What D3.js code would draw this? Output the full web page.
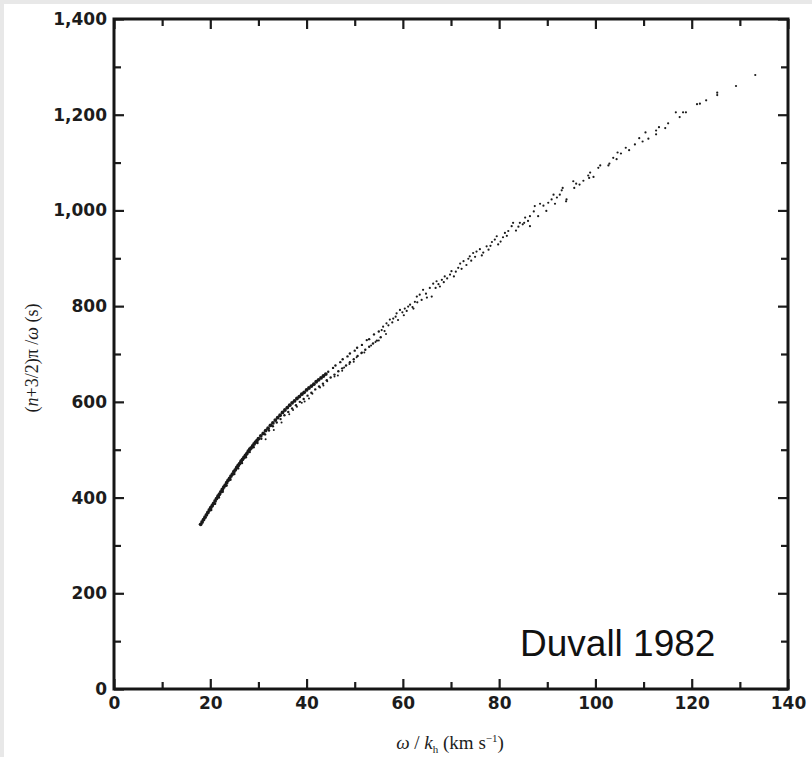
<!DOCTYPE html>
<html>
<head>
<meta charset="utf-8">
<script src="https://cdn.jsdelivr.net/npm/d3@7"></script>
<style>
  body { margin: 0; background: #e8e8e8; }
  svg { display: block; }
</style>
</head>
<body>
<div id="chart"></div>
<script>
var svgWidth = 812;
var svgHeight = 757;

// x = omega/k_h (km/s), y = (n+3/2)pi/omega (s)
// the tight band at low phase speed
var denseX = [18.0,18.3,18.6,18.9,19.2,19.5,19.8,20.1,20.4,20.7,21.0,21.3,21.6,21.9,22.2,22.5,22.8,23.1,23.4,23.7,
  24.0,24.3,24.6,24.9,25.2,25.5,25.8,26.1,26.4,26.7,27.0,27.3,27.6,27.9,28.2,28.5,28.8,29.1,29.4,29.7,30.0,
  30.5,31.0,31.5,32.0,32.5,33.0,33.5,34.0,34.5,35.0,35.5,36.0,36.5,37.0,37.5,38.0,38.5,39.0,39.5,
  40.0,40.5,41.0,41.5,42.0,42.5,43.0,43.5,44.0];
var denseY = [344,349,354,359,364,369,374,379,383,388,393,398,403,407,412,417,422,426,431,436,
  440,445,449,454,458,463,467,471,476,480,484,488,492,497,501,504,508,512,516,519,523,
  529,534,540,545,551,556,562,567,572,578,583,588,593,598,602,607,611,616,620,
  625,629,633,637,642,646,650,654,658];

// where the band breaks up into grains
var fadeX = [44.5,45.5,46.0,47.0,47.5,48.5,49.0,50.0,50.5,51.5,52.5,53.0,54.0,55.0];
var fadeY = [663,671,676,683,689,695,701,707,713,719,729,731,741,747];

// second row just under the band
var rowTwoX = [20.2,21.0,21.8,22.6,23.4,24.2,25.0,25.8,26.6,27.4,28.2,29.0,29.8,30.6,31.4,32.2,33.0,33.8,34.6,35.4,
  36.2,37.0,37.8,38.6,39.4,40.2,41.0,41.8,42.6,43.4,44.2,45.0,45.8,46.6,47.4,48.2,49.0,49.8,50.6,51.4,
  52.2,53.0,53.8,54.6,55.4];
var rowTwoY = [374,387,400,412,425,437,449,461,472,484,495,505,514,523,532,540,549,557,564,572,
  579,586,593,600,606,613,619,626,632,638,645,651,657,664,670,676,683,689,696,702,
  709,715,722,728,735];

// loose points below the band
var looseX = [31.5,33.2,34.8,36.4,38.0,39.6,41.2,42.8,44.3,45.8,47.4,48.9,50.4,52.0,53.4,55.0,56.5,
  47.8,43.5,39.0,51.5,54.3,37.2,40.5,46.5,49.8];
var looseY = [522,541,557,574,590,601,617,630,643,653,665,679,693,703,718,728,742,
  672,634,598,703,725,583,607,655,684];

// the sparse upper part
var sparseX = [55.6,55.9,56.6,57.3,58.0,58.7,59.4,60.2,60.4,61.1,62.2,62.5,62.9,63.9,64.2,66.0,65.6,66.3,67.0,67.7,
  68.1,68.7,69.8,70.1,71.5,71.9,72.6,73.6,73.9,74.6,75.3,76.0,76.7,77.4,78.5,79.8,79.1,79.5,
  81.2,81.6,81.9,82.6,82.9,84.3,86.4,84.9,85.2,85.4,86.4,87.2,88.1,87.4,88.5,89.2,90.2,91.6,90.9,91.3,92.6,93.0,93.2,
  93.9,94.0,95.6,95.4,96.0,96.7,98.7,98.5,98.9,100.6,101.0,
  102.7,102.9,103.7,104.4,104.6,105.3,106.3,108.2,109.1,109.8,111.0,110.4,
  112.6,112.6,113.2,114.5,115.1,116.7,118.2,118.8,121.1,121.7,125.3,125.3,129.2,133.2,
  56.2,57.0,57.8,58.5,59.0,59.9,60.8,61.5,62.0,63.0,63.5,64.8,65.0,66.8,67.4,68.5,69.2,70.6,71.0,72.2,
  73.2,74.2,75.0,76.4,77.8,78.2,80.3,80.8,83.5,84.0,86.0,89.8,92.0,97.5,99.6,107.0,117.5,123.0];
var sparseY = [750,757,764,772,774,785,792,781,795,799,795,809,820,813,834,820,838,847,852,841,
  855,862,866,873,880,889,894,899,904,911,914,919,912,925,934,929,939,946,
  953,947,957,967,974,974,967,971,974,985,988,998,988,1009,1014,1010,1016,1014,1023,1033,1033,1042,1047,
  1019,1023,1047,1061,1056,1054,1068,1073,1079,1089,1094,
  1094,1098,1110,1107,1121,1119,1131,1138,1151,1144,1150,1163,
  1159,1167,1174,1172,1182,1205,1205,1205,1222,1223,1241,1246,1260,1283,
  748,760,766,778,771,787,790,803,798,808,824,826,818,838,846,850,858,862,872,878,
  886,895,903,906,918,926,935,944,958,966,978,999,1027,1062,1070,1126,1195,1230];

var yTicks = [0, 200, 400, 600, 800, 1000, 1200, 1400];
var yTickLabels = ["0", "200", "400", "600", "800", "1,000", "1,200", "1,400"];
var yMinorTicks = [100, 300, 500, 700, 900, 1100, 1300];
var xTicks = [0, 20, 40, 60, 80, 100, 120, 140];
var xMinorTicks = [10, 30, 50, 70, 90, 110, 130];

var plot = { left: 114, right: 788, top: 19, bottom: 689 };

var svg = d3.select("#chart")
    .append("svg")
    .attr("width", svgWidth)
    .attr("height", svgHeight);

// white sheet, the grey shows as a thin frame top and left
svg.append("rect")
    .attr("x", 4).attr("y", 4)
    .attr("width", svgWidth - 4).attr("height", svgHeight - 4)
    .attr("fill", "#fff");

var xScale = d3.scaleLinear().domain([0, 140]).range([plot.left, plot.right]);
var yScale = d3.scaleLinear().domain([0, 1400]).range([plot.bottom, plot.top]);

var tickFont = "'DejaVu Sans', sans-serif";

function styleAxis(g) {
    g.select(".domain").remove();
    g.selectAll(".tick line").attr("stroke", "#1c1c1c").attr("stroke-width", 2.2);
    g.selectAll(".tick text")
        .attr("fill", "#1c1c1c")
        .style("font-family", tickFont)
        .style("font-weight", "bold")
        .style("font-size", "17px");
}

// left axis, labelled
svg.append("g")
    .attr("transform", `translate(${plot.left},0)`)
    .call(d3.axisLeft(yScale).tickValues(yTicks).tickSize(-10).tickPadding(7)
        .tickFormat((d, i) => yTickLabels[i]))
    .call(styleAxis);
svg.append("g")
    .attr("transform", `translate(${plot.left},0)`)
    .call(d3.axisLeft(yScale).tickValues(yMinorTicks).tickSize(-7).tickFormat(""))
    .call(styleAxis);

// right axis, ticks only
svg.append("g")
    .attr("transform", `translate(${plot.right},0)`)
    .call(d3.axisRight(yScale).tickValues(yTicks).tickSize(-10).tickFormat(""))
    .call(styleAxis);
svg.append("g")
    .attr("transform", `translate(${plot.right},0)`)
    .call(d3.axisRight(yScale).tickValues(yMinorTicks).tickSize(-7).tickFormat(""))
    .call(styleAxis);

// bottom axis, labelled
svg.append("g")
    .attr("transform", `translate(0,${plot.bottom})`)
    .call(d3.axisBottom(xScale).tickValues(xTicks).tickSize(-10).tickPadding(8).tickFormat(d3.format("d")))
    .call(styleAxis);
svg.append("g")
    .attr("transform", `translate(0,${plot.bottom})`)
    .call(d3.axisBottom(xScale).tickValues(xMinorTicks).tickSize(-7).tickFormat(""))
    .call(styleAxis);

// top axis, ticks only
svg.append("g")
    .attr("transform", `translate(0,${plot.top})`)
    .call(d3.axisTop(xScale).tickValues(xTicks).tickSize(-10).tickFormat(""))
    .call(styleAxis);
svg.append("g")
    .attr("transform", `translate(0,${plot.top})`)
    .call(d3.axisTop(xScale).tickValues(xMinorTicks).tickSize(-7).tickFormat(""))
    .call(styleAxis);

// frame
svg.append("rect")
    .attr("x", plot.left).attr("y", plot.top)
    .attr("width", plot.right - plot.left)
    .attr("height", plot.bottom - plot.top)
    .attr("fill", "none")
    .attr("stroke", "#161616")
    .attr("stroke-width", 3);

// points
var groups = [
    { xs: denseX, ys: denseY, r: 1.9 },
    { xs: fadeX, ys: fadeY, r: 1.2 },
    { xs: rowTwoX, ys: rowTwoY, r: 1.2 },
    { xs: looseX, ys: looseY, r: 1.0 },
    { xs: sparseX, ys: sparseY, r: 1.1 }
];
groups.forEach(function(grp) {
    var pts = grp.xs.map((x, i) => [x, grp.ys[i]]);
    svg.append("g").selectAll("circle")
        .data(pts)
        .enter()
        .append("circle")
        .attr("cx", d => xScale(d[0]))
        .attr("cy", d => yScale(d[1]))
        .attr("r", grp.r)
        .attr("fill", "#1a1a1a");
});

// axis titles (serif like the scan)
var xTitle = svg.append("text")
    .attr("x", 450)
    .attr("y", 749)
    .attr("text-anchor", "middle")
    .style("font-family", "'Liberation Serif', 'DejaVu Serif', serif")
    .style("font-size", "19px")
    .attr("fill", "#1c1c1c");
xTitle.append("tspan").style("font-style", "italic").text("ω");
xTitle.append("tspan").text(" / ");
xTitle.append("tspan").style("font-style", "italic").text("k");
xTitle.append("tspan").attr("dy", 4).style("font-size", "11px").text("h");
xTitle.append("tspan").attr("dy", -4).text(" (km s");
xTitle.append("tspan").attr("dy", -7).style("font-size", "11px").text("−1");
xTitle.append("tspan").attr("dy", 7).text(")");

var yTitle = svg.append("text")
    .attr("transform", "translate(38,358) rotate(-90)")
    .attr("text-anchor", "middle")
    .style("font-family", "'Liberation Serif', 'DejaVu Serif', serif")
    .style("font-size", "18px")
    .attr("fill", "#1c1c1c");
yTitle.append("tspan").text("(");
yTitle.append("tspan").style("font-style", "italic").text("n");
yTitle.append("tspan").text("+3/2)π /");
yTitle.append("tspan").style("font-style", "italic").text("ω");
yTitle.append("tspan").text(" (s)");

// credit
svg.append("text")
    .attr("x", 520)
    .attr("y", 656)
    .style("font-family", "'Liberation Sans', Arial, sans-serif")
    .style("font-size", "37px")
    .attr("fill", "#111")
    .text("Duvall 1982");
</script>
</body>
</html>
